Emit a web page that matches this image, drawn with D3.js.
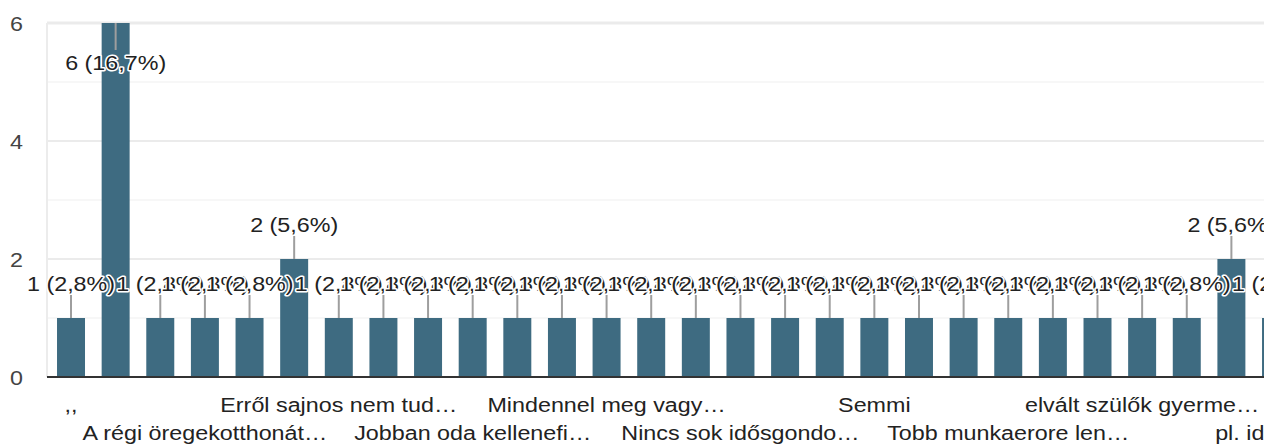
<!DOCTYPE html>
<html>
<head>
<meta charset="utf-8">
<script src="https://cdn.jsdelivr.net/npm/d3@7"></script>
<style>
  html, body { margin: 0; padding: 0; background: #fff; overflow: hidden; }
  text { font-family: "Liberation Sans", Arial, sans-serif; }
</style>
</head>
<body>
<svg id="chart"></svg>
<script>
// answers, in the order the chart lists them (only every third label is shown)
var categories = [
  ",,", "", "", "A régi öregekotthonát…", "", "",
  "Erről sajnos nem tud…", "", "", "Jobban oda kellenefi…", "", "",
  "Mindennel meg vagy…", "", "", "Nincs sok idősgondo…", "", "",
  "Semmi", "", "", "Tobb munkaerore len…", "", "",
  "elvált szülők gyerme…", "", "", "pl. idősek…", ""
];
var counts = [
  1, 6, 1, 1, 1, 2, 1, 1, 1, 1, 1, 1, 1, 1, 1,
  1, 1, 1, 1, 1, 1, 1, 1, 1, 1, 1, 2, 1, 1
];
var respondents = 36;
var yTicks = [0, 2, 4, 6];
var yMinor = [1, 3, 5];

var W = 1264, H = 445;
var plotLeft = 47, plotTop = 23, plotBottom = 377;
var step = 44.63;
var stretch = 1.11;   // the picture's text is a little wider than plain Arial
var barColor = "#3e6b81";

var svg = d3.select("#chart").attr("width", W).attr("height", H);

var idx = categories.map(function(d, i) { return i; });
var x = d3.scaleBand()
  .domain(idx)
  .range([48.7, 48.7 + step * idx.length])
  .paddingInner(0.373)
  .paddingOuter(0.1865);
var y = d3.scaleLinear().domain([0, 6]).range([plotBottom, plotTop]);

function pct(v) {
  return v + " (" + (v / respondents * 100).toFixed(1).replace(".", ",") + "%)";
}

// grid
svg.append("g").selectAll("line").data(yMinor).enter().append("line")
  .attr("x1", plotLeft).attr("x2", W)
  .attr("y1", function(d) { return y(d); }).attr("y2", function(d) { return y(d); })
  .attr("stroke", "#f4f4f4").attr("stroke-width", 1.5);
svg.append("g").selectAll("line").data(yTicks.filter(function(d) { return d > 0; })).enter().append("line")
  .attr("x1", plotLeft).attr("x2", W)
  .attr("y1", function(d) { return y(d); }).attr("y2", function(d) { return y(d); })
  .attr("stroke", "#ebebeb").attr("stroke-width", function(d) { return d === 6 ? 3 : 2; });
svg.append("line")
  .attr("x1", plotLeft).attr("x2", plotLeft).attr("y1", plotTop).attr("y2", plotBottom)
  .attr("stroke", "#ececec").attr("stroke-width", 2);

// y axis
var yAxis = svg.append("g")
  .attr("transform", "translate(23,0)")
  .call(d3.axisLeft(y).tickValues(yTicks).tickFormat(d3.format("d")).tickSize(0).tickPadding(0));
yAxis.select(".domain").remove();
yAxis.selectAll("text")
  .attr("x", 0).attr("dy", "0.36em")
  .attr("transform", "scale(" + stretch + ",1)")
  .attr("font-size", 21).attr("fill", "#444")
  .attr("font-family", "Liberation Sans, Arial, sans-serif");

// bars
svg.append("g").selectAll("rect").data(counts).enter().append("rect")
  .attr("x", function(d, i) { return x(i); })
  .attr("y", function(d) { return y(d); })
  .attr("width", x.bandwidth())
  .attr("height", function(d) { return plotBottom - y(d); })
  .attr("fill", barColor);

// baseline
svg.append("line")
  .attr("x1", plotLeft).attr("x2", W).attr("y1", plotBottom).attr("y2", plotBottom)
  .attr("stroke", "#333").attr("stroke-width", 2);

// x axis labels, staggered in two rows
var xAxis = svg.append("g")
  .attr("transform", "translate(0," + plotBottom + ")")
  .call(d3.axisBottom(x).tickSize(0).tickFormat(function(i) { return categories[i]; }));
xAxis.select(".domain").remove();
xAxis.selectAll("text")
  .attr("y", 0).attr("dy", 0)
  .attr("transform", function(i) {
    var row = Math.floor(i / 3) % 2;
    return "translate(0," + (row ? 63 : 35) + ") scale(" + stretch + ",1)";
  })
  .attr("font-size", 21).attr("fill", "#222")
  .attr("font-family", "Liberation Sans, Arial, sans-serif");

// annotations
function inside(v) { return y(v) - 50 < plotTop; }
function cx(i) { return x(i) + x.bandwidth() / 2; }

svg.append("g").selectAll("line").data(counts).enter().append("line")
  .attr("x1", function(d, i) { return cx(i); })
  .attr("x2", function(d, i) { return cx(i); })
  .attr("y1", function(d) { return y(d); })
  .attr("y2", function(d) { return inside(d) ? y(d) + 27 : y(d) - 23; })
  .attr("stroke", "#9e9e9e").attr("stroke-width", 2);

svg.append("g").selectAll("text").data(counts).enter().append("text")
  .attr("transform", function(d, i) {
    var ty = inside(d) ? y(d) + 47 : y(d) - 27;
    return "translate(" + cx(i) + "," + ty + ") scale(" + stretch + ",1)";
  })
  .attr("text-anchor", "middle")
  .attr("font-size", 21)
  .attr("fill", "#222")
  .attr("stroke", "#fff").attr("stroke-width", 3)
  .attr("stroke-linejoin", "round")
  .attr("paint-order", "stroke")
  .text(function(d) { return pct(d); });
</script>
</body>
</html>
